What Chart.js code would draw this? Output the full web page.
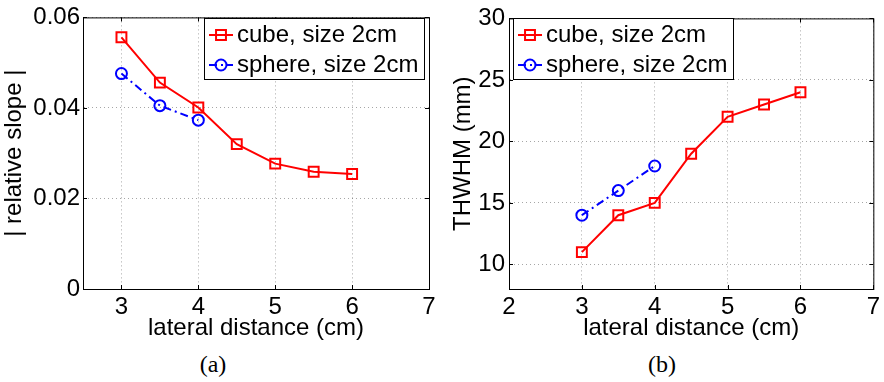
<!DOCTYPE html>
<html>
<head>
<meta charset="utf-8">
<script src="https://cdn.jsdelivr.net/npm/chart.js@4.4.1/dist/chart.umd.min.js"></script>
<style>
  body { margin: 0; background: #fff; }
  #wrap { position: relative; width: 884px; height: 382px; }
  #wrap canvas { position: absolute; top: 0; }
  .cap { position: absolute; top: 351px; width: 60px; text-align: center;
         font: 24px "Liberation Serif", "DejaVu Serif", serif; color: #000; }
</style>
</head>
<body>
<div id="wrap">
  <canvas id="slopeChart" width="440" height="340" style="left:0"></canvas>
  <canvas id="widthChart" width="444" height="340" style="left:440px"></canvas>
  <div class="cap" style="left:183px">(a)</div>
  <div class="cap" style="left:632px">(b)</div>
</div>
<script>
"use strict";

// lateral distance of the source (cm)
const distCube = [3, 3.5, 4, 4.5, 5, 5.5, 6];
const distSphere = [3, 3.5, 4];

// | relative slope |
const slopeCube = [0.0556, 0.0456, 0.0401, 0.032, 0.0277, 0.0259, 0.0254];
const slopeSphere = [0.0476, 0.0405, 0.0373];

// THWHM (mm)
const thwhmCube = [11, 14, 15, 19, 22, 23, 24];
const thwhmSphere = [14, 16, 18];

const seriesNames = ["cube, size 2cm", "sphere, size 2cm"];

const xTicksA = [3, 4, 5, 6, 7];
const yTicksA = [0, 0.02, 0.04, 0.06];
const xTicksB = [2, 3, 4, 5, 6, 7];
const yTicksB = [10, 15, 20, 25, 30];

const FONT = "'Liberation Sans', Arial, Helvetica, sans-serif";

function toPoints(xs, ys) {
  return xs.map((x, i) => ({ x: x, y: ys[i] }));
}

function makeDatasets(cubeVals, sphereVals) {
  return [
    {
      label: seriesNames[0],
      data: toPoints(distCube, cubeVals),
      borderColor: "#ff0000",
      borderWidth: 2,
      pointStyle: "rect",
      pointRadius: 7,
      pointBorderWidth: 2,
      pointBorderColor: "#ff0000",
      pointBackgroundColor: "rgba(0,0,0,0)",
      tension: 0,
    },
    {
      label: seriesNames[1],
      data: toPoints(distSphere, sphereVals),
      borderColor: "#0000ff",
      borderWidth: 2,
      borderDash: [8, 4, 2, 4],
      pointStyle: "circle",
      pointRadius: 5.5,
      pointBorderWidth: 2,
      pointBorderColor: "#0000ff",
      pointBackgroundColor: "rgba(0,0,0,0)",
      tension: 0,
    },
  ];
}

// box around the axes plus short inward tick marks on all four sides
const axesFrame = {
  id: "axesFrame",
  beforeDatasetsDraw(chart) {
    const { ctx, chartArea: a } = chart;
    const xs = chart.scales.x, ys = chart.scales.y;
    ctx.save();
    ctx.strokeStyle = "#000";
    ctx.lineWidth = 1;
    ctx.strokeRect(a.left + 0.5, a.top + 0.5, a.right - a.left, a.bottom - a.top);
    ctx.beginPath();
    xs.ticks.forEach((t) => {
      const px = Math.round(xs.getPixelForValue(t.value)) + 0.5;
      ctx.moveTo(px, a.bottom); ctx.lineTo(px, a.bottom - 4);
      ctx.moveTo(px, a.top); ctx.lineTo(px, a.top + 4);
    });
    ys.ticks.forEach((t) => {
      const py = Math.round(ys.getPixelForValue(t.value)) + 0.5;
      ctx.moveTo(a.left, py); ctx.lineTo(a.left + 4, py);
      ctx.moveTo(a.right, py); ctx.lineTo(a.right - 4, py);
    });
    ctx.stroke();
    ctx.restore();
  },
};

// boxed legend drawn inside the plot area
const boxLegend = {
  id: "boxLegend",
  afterDatasetsDraw(chart, args, opts) {
    const ctx = chart.ctx;
    ctx.save();
    ctx.fillStyle = "#fff";
    ctx.fillRect(opts.x, opts.y, opts.w, opts.h);
    ctx.strokeStyle = "#000";
    ctx.lineWidth = 1;
    ctx.strokeRect(opts.x + 0.5, opts.y + 0.5, opts.w, opts.h);
    chart.data.datasets.forEach((ds, i) => {
      const cy = opts.y + 17 + i * 30;
      const x0 = opts.x + 5, x1 = opts.x + 29, cx = (x0 + x1) / 2;
      ctx.strokeStyle = ds.borderColor;
      ctx.lineWidth = ds.borderWidth;
      ctx.setLineDash(ds.borderDash || []);
      ctx.beginPath();
      ctx.moveTo(x0, cy); ctx.lineTo(x1, cy);
      ctx.stroke();
      ctx.setLineDash([]);
      ctx.beginPath();
      if (ds.pointStyle === "rect") {
        const s = ds.pointRadius * Math.SQRT1_2;
        ctx.rect(cx - s, cy - s, 2 * s, 2 * s);
      } else {
        ctx.arc(cx, cy, ds.pointRadius, 0, Math.PI * 2);
      }
      ctx.stroke();
      ctx.fillStyle = "#000";
      ctx.font = "24px " + FONT;
      ctx.textBaseline = "middle";
      ctx.fillText(ds.label, opts.x + 33, cy);
    });
    ctx.restore();
  },
};

function createConfig(cfg) {
  return {
    type: "line",
    data: { datasets: makeDatasets(cfg.cube, cfg.sphere) },
    plugins: [axesFrame, boxLegend],
    options: {
      responsive: false,
      animation: false,
      events: [],
      layout: { padding: { left: 0, top: 15, right: cfg.padRight, bottom: 0 } },
      plugins: {
        legend: { display: false },
        tooltip: { enabled: false },
        boxLegend: cfg.legendBox,
      },
      scales: {
        x: {
          type: "linear",
          min: cfg.xMin,
          max: cfg.xMax,
          afterBuildTicks: (s) => { s.ticks = cfg.xTicks.map((v) => ({ value: v })); },
          afterFit: (s) => { s.height = 51; },
          ticks: { color: "#000", font: { family: FONT, size: 24 }, padding: 4, maxRotation: 0 },
          grid: { color: "rgba(0,0,0,0.35)", drawTicks: false },
          border: { color: "#000", dash: [1, 3] },
          title: {
            display: true,
            text: "lateral distance (cm)",
            color: "#000",
            font: { family: FONT, size: 24, lineHeight: 1 },
            padding: 0,
          },
        },
        y: {
          min: cfg.yMin,
          max: cfg.yMax,
          afterBuildTicks: (s) => { s.ticks = cfg.yTicks.map((v) => ({ value: v })); },
          afterFit: (s) => { s.width = cfg.yWidth; },
          ticks: {
            color: "#000",
            font: { family: FONT, size: 24 },
            padding: cfg.yTickPad,
            callback: (v) => String(v),
          },
          grid: { color: "rgba(0,0,0,0.35)", drawTicks: false },
          border: { color: "#000", dash: [1, 3] },
          title: {
            display: true,
            text: cfg.yTitle,
            color: "#000",
            font: { family: FONT, size: 24, lineHeight: 1 },
            padding: { top: cfg.yTitlePad, bottom: 0 },
          },
        },
      },
    },
  };
}

new Chart(
  document.getElementById("slopeChart"),
  createConfig({
    cube: slopeCube,
    sphere: slopeSphere,
    xMin: 2.5, xMax: 7, xTicks: xTicksA,
    yMin: 0, yMax: 0.06, yTicks: yTicksA,
    yTitle: "| relative slope |",
    yWidth: 83, yTickPad: 3, yTitlePad: 2, padRight: 11,
    legendBox: { x: 204, y: 18, w: 220, h: 61 },
  })
);

new Chart(
  document.getElementById("widthChart"),
  createConfig({
    cube: thwhmCube,
    sphere: thwhmSphere,
    xMin: 2, xMax: 7, xTicks: xTicksB,
    yMin: 8, yMax: 30, yTicks: yTicksB,
    yTitle: "THWHM (mm)",
    yWidth: 69, yTickPad: 4, yTitlePad: 11, padRight: 8,
    legendBox: { x: 73, y: 18, w: 220, h: 61 },
  })
);
</script>
</body>
</html>
